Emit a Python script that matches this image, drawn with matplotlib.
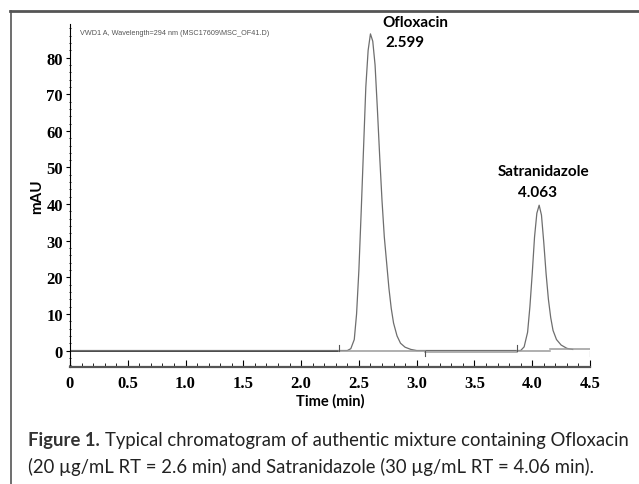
import matplotlib.pyplot as plt
from matplotlib.lines import Line2D
from matplotlib.ticker import MultipleLocator

# chromatogram trace (min, mAU)
time = [0.0, 2.40, 2.43, 2.46, 2.48, 2.50, 2.52, 2.54, 2.56, 2.58, 2.60,
        2.62, 2.64, 2.66, 2.68, 2.70, 2.72, 2.74, 2.76, 2.78, 2.80, 2.83,
        2.86, 2.90, 2.95, 3.00, 3.90, 3.93, 3.96, 3.98, 4.00, 4.02, 4.04,
        4.06, 4.08, 4.10, 4.12, 4.14, 4.16, 4.18, 4.21, 4.25, 4.30, 4.35]
signal = [0.0, 0.0, 0.5, 3.0, 10.0, 22.0, 38.0, 55.0, 72.0, 82.0, 86.5,
          84.5, 78.0, 66.0, 53.0, 41.0, 31.0, 24.0, 17.0, 11.5, 7.5, 4.0,
          2.0, 0.9, 0.3, 0.0, 0.0, 1.0, 5.0, 12.0, 21.0, 31.0, 37.5,
          39.7, 37.0, 29.5, 21.0, 14.0, 9.0, 5.5, 3.0, 1.5, 0.6, 0.3]

# integration baselines (start, end, level)
base_start = [2.33, 3.07, 3.87, 4.15]
base_end = [3.07, 3.87, 4.15, 4.50]
base_level = [0.0, -0.3, 0.0, 0.3]
event_times = [2.33, 3.07, 3.87, 4.50]
event_dir = [1.5, -1.5, 1.5, -1.5]

peak_names = ["Ofloxacin", "Satranidazole"]
peak_rt = ["2.599", "4.063"]
name_pos = [(2.705, 89.7), (3.70, 49.0)]
rt_pos = [(2.73, 84.2), (3.88, 43.3)]

xticks = [0, 0.5, 1.0, 1.5, 2.0, 2.5, 3.0, 3.5, 4.0, 4.5]
xlabels = ["0", "0.5", "1.0", "1.5", "2.0", "2.5", "3.0", "3.5", "4.0", "4.5"]
yticks = [0, 10, 20, 30, 40, 50, 60, 70, 80]

serif = ["Liberation Serif", "DejaVu Serif"]
sans = ["Lato", "DejaVu Sans"]

fig = plt.figure(figsize=(6.39, 4.85), dpi=100)
ax = fig.add_axes([70 / 639, 117 / 485, 520 / 639, 343 / 485])

ax.plot([0, 2.33], [0, 0], color="#444444", lw=1.4)
ax.plot(time, signal, color="#6e6e6e", lw=0.9)
for s, e, lv in zip(base_start, base_end, base_level):
    ax.plot([s, e], [lv, lv], color="#9a9a9a", lw=1.1)
for t, d in zip(event_times, event_dir):
    ax.plot([t, t], [0, d], color="#555555", lw=0.8)

ax.set_xlim(0, 4.5)
ax.set_ylim(-4.5, 89.2)
ax.set_xticks(xticks)
ax.set_xticklabels(xlabels)
ax.set_yticks(yticks)
ax.xaxis.set_minor_locator(MultipleLocator(0.1))
ax.yaxis.set_minor_locator(MultipleLocator(2))
ax.tick_params(axis="x", which="both", direction="in", length=3, pad=6)
ax.tick_params(axis="x", which="major", length=5)
ax.tick_params(axis="y", which="major", direction="out", length=3, pad=2)
ax.tick_params(axis="y", which="minor", direction="inout", length=2)
for lab in ax.get_xticklabels() + ax.get_yticklabels():
    lab.set_family(serif)
    lab.set_fontweight("bold")
    lab.set_fontsize(12)

for side in ["top", "right"]:
    ax.spines[side].set_visible(False)
ax.spines["bottom"].set_color("#555555")
ax.spines["bottom"].set_linewidth(1.6)
ax.spines["left"].set_linewidth(0.8)

ax.set_xlabel("Time (min)", family=sans, fontweight="bold", fontsize=10.5, labelpad=1)
ax.set_ylabel("mAU", family=sans, fontweight="bold", fontsize=11, labelpad=2)

for name, rt, npos, rpos in zip(peak_names, peak_rt, name_pos, rt_pos):
    ax.text(npos[0], npos[1], name, family=sans, fontweight="bold",
            fontsize=11, va="center", ha="left")
    ax.text(rpos[0], rpos[1], rt, family=sans, fontweight="bold",
            fontsize=11, va="center", ha="left")

ax.text(0.02, 0.985, "VWD1 A, Wavelength=294 nm (MSC17609\\MSC_OF41.D)",
        transform=ax.transAxes, fontsize=5.2, color="#555555",
        family=["Liberation Sans", "DejaVu Sans"], va="top", ha="left")

# outer frame of the figure panel
fig.add_artist(Line2D([10 / 639, 1], [1 - 12 / 485, 1 - 12 / 485],
                      color="#555555", lw=2))
fig.add_artist(Line2D([11 / 639, 11 / 639], [0, 1 - 12 / 485],
                      color="#555555", lw=1.2))

# caption, sized so the first line spans the same width as the reference
cap = ["Lato", "DejaVu Sans"]
line1_a = "Figure 1."
line1_b = "Typical chromatogram of authentic mixture containing Ofloxacin"
line2 = "(20 µg/mL RT = 2.6 min) and Satranidazole (30 µg/mL RT = 4.06 min)."
fs = 14
t1 = fig.text(28 / 639, 1 - 441 / 485, line1_a, family=cap,
              fontweight="bold", fontsize=fs, color="#333333", va="center")
t2 = fig.text(0, 1 - 441 / 485, line1_b, family=cap, fontsize=fs,
              color="#222222", va="center")
fig.canvas.draw()
r = fig.canvas.get_renderer()
w = t1.get_window_extent(r).width + 5 + t2.get_window_extent(r).width
fs = fs * (632 - 28) / w
t1.set_fontsize(fs)
t2.set_fontsize(fs)
fig.canvas.draw()
bb = t1.get_window_extent(r)
t2.set_x((bb.x1 + 5) / 639)
fig.text(28 / 639, 1 - 467 / 485, line2, family=cap, fontsize=fs,
         color="#222222", va="center")

fig.savefig("out.png", dpi=100)
